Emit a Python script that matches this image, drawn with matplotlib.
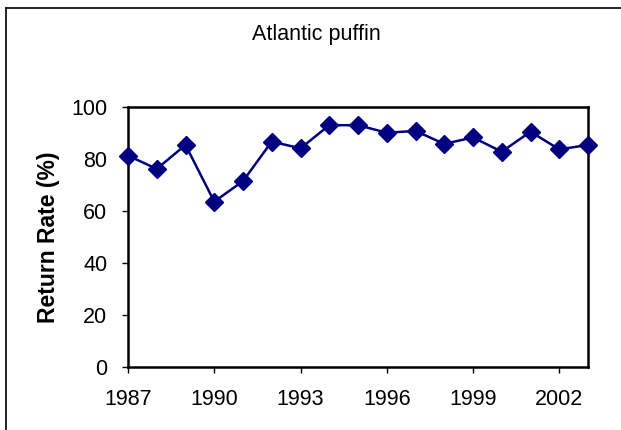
import matplotlib
matplotlib.use("Agg")
import matplotlib.pyplot as plt
from matplotlib.lines import Line2D

# Return rate of Atlantic puffins by year
years = [1987, 1988, 1989, 1990, 1991, 1992, 1993, 1994, 1995,
         1996, 1997, 1998, 1999, 2000, 2001, 2002, 2003]
return_rate = [81.3, 76.2, 85.4, 63.6, 71.5, 86.7, 84.1, 93.0, 93.0,
               90.1, 90.8, 85.8, 88.3, 82.8, 90.5, 83.7, 85.4]
x_ticks = [1987, 1990, 1993, 1996, 1999, 2002]
y_ticks = [0, 20, 40, 60, 80, 100]

plt.rcParams['font.family'] = ['Liberation Sans', 'DejaVu Sans']

W, H = 621, 430
fig = plt.figure(figsize=(W / 100, H / 100), dpi=100)
ax = fig.add_axes([128 / W, (H - 367) / H, (588 - 128) / W, (367 - 107) / H])

ax.plot(years, return_rate, color='#000080', lw=1.8, marker='D',
        ms=9, clip_on=False, zorder=3)

ax.set_xlim(1987, 2003)
ax.set_ylim(0, 100)
ax.set_xticks(x_ticks)
ax.set_yticks(y_ticks)
ax.tick_params(direction='out', length=4.5, width=1, labelsize=15.5)
ax.tick_params(axis='x', pad=11)
ax.tick_params(axis='y', pad=10.5)
for s in ax.spines.values():
    s.set_linewidth(1.8)

fig.text(49 / W, 1 - 237 / H, 'Return Rate (%)', rotation=90, ha='center',
         va='center', fontsize=16.5, fontweight='bold')
fig.text(316 / W, 1 - 40 / H, 'Atlantic puffin', ha='center', va='baseline',
         fontsize=15.5)

# outer chart frame (cropped at right and bottom)
fig.add_artist(Line2D([6 / W, 1], [1 - 8 / H, 1 - 8 / H], color='black',
                      lw=1.2, transform=fig.transFigure))
fig.add_artist(Line2D([6 / W, 6 / W], [0, 1 - 8 / H], color='black',
                      lw=1.2, transform=fig.transFigure))

fig.savefig('out.png', dpi=100)
